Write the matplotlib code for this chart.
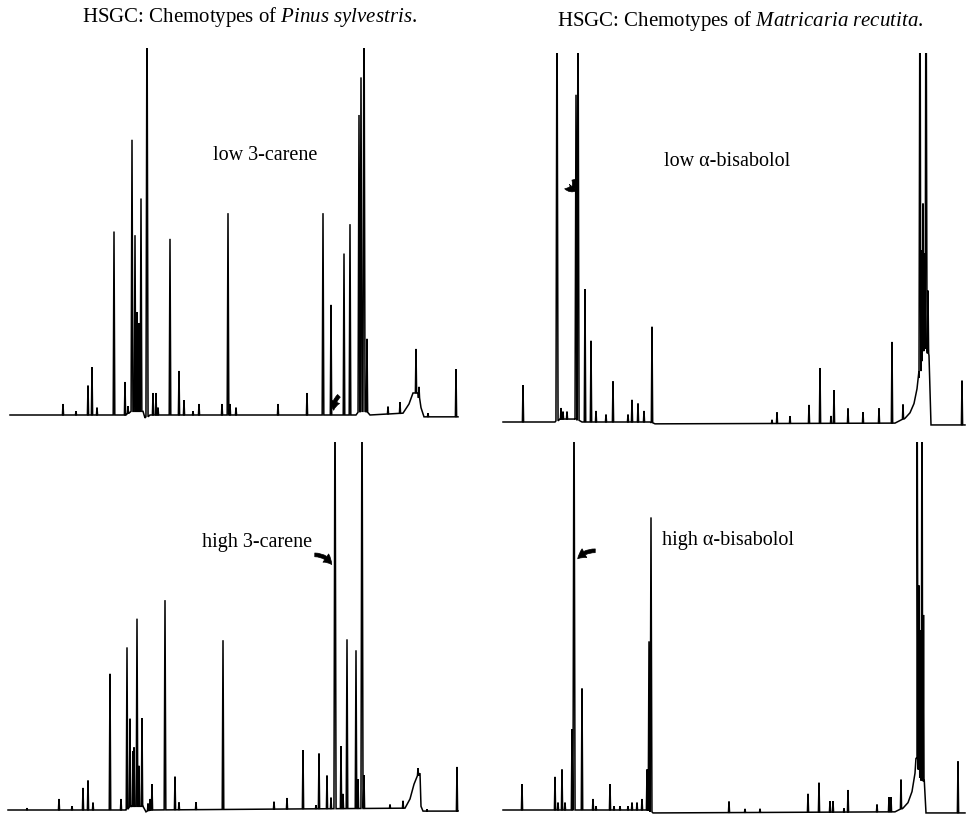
import numpy as np
import matplotlib.pyplot as plt
from matplotlib.patches import FancyArrowPatch

plt.rcParams['font.family'] = ['Liberation Serif', 'DejaVu Serif']
plt.rcParams['mathtext.fontset'] = 'custom'
plt.rcParams['mathtext.rm'] = 'Liberation Serif'
plt.rcParams['mathtext.it'] = 'Liberation Serif:italic'

W, H = 970, 817

# Retention in scan units, peak heights in % of recorder full scale (>100 = off scale)
pinus_low_rt = [63, 76, 88, 92, 97, 114, 125, 128, 132, 135,
                137, 139, 141, 147, 153, 156, 158, 170, 179, 184,
                193, 199, 222, 228, 230, 236, 278, 307, 323, 331,
                344, 350, 359, 361, 364, 367, 388, 400, 416, 419,
                428, 456]
pinus_low_h = [3, 1, 8, 13, 2, 50, 9, 2, 74, 48,
               27, 24, 58, 120, 6, 6, 2, 48, 12, 4,
               1, 3, 3, 55, 3, 2, 3, 6, 55, 30,
               44, 52, 81, 91, 120, 20, 2, 3, 12, 3,
               1, 13]
pinus_low_base_rt = [10, 126, 131, 143, 145, 150, 356, 360, 366, 370, 403, 409, 413, 418, 421, 424, 458]
pinus_low_base = [0, 0, 1, 1, -0.8, 0, 0, 1, 1, 0, 0.5, 3, 6, 6, 2, -0.5, -0.5]

pinus_high_rt = [27, 59, 72, 83, 88, 93, 110, 121, 127, 130,
                 133, 134, 137, 139, 142, 148, 150, 152, 165, 175,
                 179, 196, 223, 274, 287, 303, 316, 319, 327, 331,
                 335, 341, 343, 347, 356, 358, 362, 364, 390, 403,
                 418, 427, 457]
pinus_high_h = [0.5, 3, 1, 6, 8, 2, 37, 3, 44, 24,
                15, 16, 51, 11, 24, 2, 3, 7, 57, 9,
                2, 2, 46, 2, 3, 16, 1, 15, 9, 3,
                120, 17, 4, 46, 43, 8, 120, 9, 1, 2,
                2, 0.5, 12]
pinus_high_base_rt = [8, 126, 131, 143, 146, 150, 405, 410, 414, 417, 420, 421, 423, 458]
pinus_high_base = [0, 0, 1, 1, -0.5, 0, 0.5, 3, 7, 9, 10, 1, -0.3, -0.3]

cham_low_rt = [523, 557, 561, 563, 567, 576, 578, 585, 591, 596,
               606, 613, 628, 632, 638, 644, 652, 772, 777, 790,
               809, 820, 831, 834, 848, 863, 879, 892, 903, 920,
               921.5, 923, 924.5, 926, 928, 962]
cham_low_h = [10, 120, 3, 2, 2, 88, 120, 36, 22, 3,
              2, 11, 2, 6, 5, 3, 26, 1, 3, 2,
              5, 15, 2, 9, 4, 3, 4, 22, 4, 120,
              30, 40, 25, 120, 17, 12]
cham_low_base_rt = [503, 555, 560, 575, 582, 650, 655, 895, 905, 910, 914, 917, 919, 924, 929, 931, 965]
cham_low_base = [0, 0, 0.8, 0.8, 0, 0, -0.5, -0.3, 1, 2.5, 5, 9, 12, 21, 18, -0.8, -0.8]

cham_high_rt = [522, 555, 558, 562, 565, 572, 574, 582, 593, 596,
                610, 614, 620, 628, 632, 637, 642, 647, 649, 651,
                729, 745, 760, 808, 819, 830, 833, 844, 848, 877,
                889, 891, 901, 917, 919, 920.5, 922, 923.5, 958]
cham_high_h = [7, 9, 2, 11, 2, 22, 120, 33, 3, 1,
               7, 1, 1, 1, 2, 2, 3, 11, 46, 80,
               3, 1, 1, 5, 8, 3, 3, 1, 6, 2,
               4, 4, 8, 120, 50, 40, 120, 45, 14]
cham_high_base_rt = [503, 648, 653, 895, 903, 908, 912, 915, 917, 921, 924, 926, 965]
cham_high_base = [0, 0, -0.8, -0.5, 0.5, 2, 5, 10, 14, 8, 8, -0.8, -0.8]


def trace(rt, height, base_rt, base_level):
    """Join baseline knots and narrow peaks into one detector trace."""
    rt = np.asarray(rt, float)
    height = np.asarray(height, float)
    base_rt = np.asarray(base_rt, float)
    base_level = np.asarray(base_level, float)
    # taller peaks are a little broader at the foot
    half = 0.55 + 0.005 * np.minimum(height, 100)
    b = np.interp(rt, base_rt, base_level)
    xs = np.concatenate([base_rt, rt - half, rt, rt + half])
    ys = np.concatenate([base_level, b, b + height, b])
    order = np.argsort(xs, kind='stable')
    return xs[order], ys[order]


def panel(fig, x0, x1, base_y, top_y, ymin=-4):
    s = (base_y - top_y) / 100
    bottom = base_y - ymin * s
    ax = fig.add_axes([x0 / W, 1 - bottom / H, (x1 - x0) / W, (bottom - top_y) / H])
    ax.set_xlim(x0, x1)
    ax.set_ylim(ymin, 100)
    ax.set_axis_off()
    return ax


def label(fig, x, y, s, size=14.5):
    fig.text(x / W, 1 - y / H, s, ha='center', va='center', fontsize=size)


def arrow(fig, tail, head, rad):
    a = FancyArrowPatch((tail[0] / W, 1 - tail[1] / H), (head[0] / W, 1 - head[1] / H),
                        transform=fig.transFigure, connectionstyle=f'arc3,rad={rad}',
                        arrowstyle='simple,head_length=0.7,head_width=0.8,tail_width=0.3',
                        mutation_scale=9, color='black', lw=0.5)
    fig.add_artist(a)


fig = plt.figure(figsize=(W / 100, H / 100), dpi=100)

panels = [
    (5, 465, 415, 48, pinus_low_rt, pinus_low_h, pinus_low_base_rt, pinus_low_base),
    (3, 465, 810, 442, pinus_high_rt, pinus_high_h, pinus_high_base_rt, pinus_high_base),
    (498, 970, 422, 53, cham_low_rt, cham_low_h, cham_low_base_rt, cham_low_base),
    (498, 970, 810, 442, cham_high_rt, cham_high_h, cham_high_base_rt, cham_high_base),
]
for x0, x1, base_y, top_y, rt, h, brt, bl in panels:
    ax = panel(fig, x0, x1, base_y, top_y)
    x, y = trace(rt, h, brt, bl)
    ax.plot(x, y, color='black', lw=1.1, solid_joinstyle='miter')

label(fig, 250, 17, r'HSGC: Chemotypes of $\mathit{Pinus\ sylvestris.}$', 15)
label(fig, 740, 21, r'HSGC: Chemotypes of $\mathit{Matricaria\ recutita.}$', 15)
label(fig, 265, 155, 'low 3-carene')
label(fig, 727, 162, 'low α-bisabolol')
label(fig, 257, 542, 'high 3-carene')
label(fig, 728, 541, 'high α-bisabolol')

arrow(fig, (341, 394), (334, 413), 0.3)
arrow(fig, (573, 177), (562, 188), -1.0)
arrow(fig, (312, 555), (333, 567), -0.35)
arrow(fig, (598, 551), (576, 561), 0.3)

fig.savefig('out.png', dpi=100)
